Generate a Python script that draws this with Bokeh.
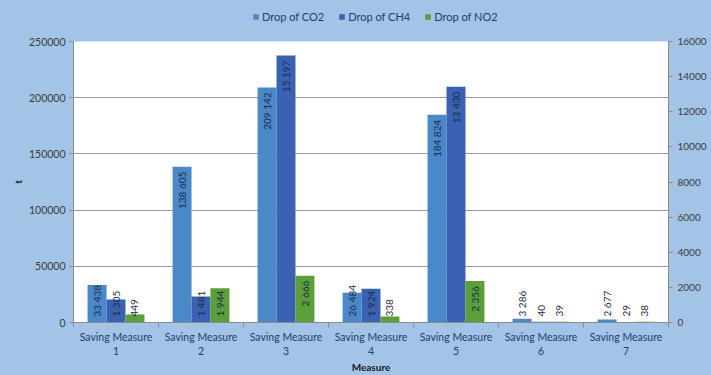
from math import pi

from bokeh.core.properties import value
from bokeh.embed import file_html
from bokeh.layouts import column
from bokeh.models import (BasicTickFormatter, ColumnDataSource, FixedTicker,
                          Legend, LegendItem, LinearAxis, Range1d)
from bokeh.plotting import figure
from bokeh.resources import INLINE

# Emission drops per saving measure (t)
measures = ["Saving Measure 1", "Saving Measure 2", "Saving Measure 3",
            "Saving Measure 4", "Saving Measure 5", "Saving Measure 6",
            "Saving Measure 7"]
co2 = [33438, 138605, 209142, 26484, 184824, 3286, 2677]
ch4 = [1305, 1481, 15197, 1924, 13430, 40, 29]
no2 = [449, 1944, 2666, 338, 2356, 39, 38]

left_ticks = [0, 50000, 100000, 150000, 200000, 250000]
right_ticks = [0, 2000, 4000, 6000, 8000, 10000, 12000, 14000, 16000]

series_names = ["Drop of CO2", "Drop of CH4", "Drop of NO2"]
colors = ["#4b88c8", "#3a62b2", "#5c9e3a"]

LEFT_MAX = 250000
RIGHT_MAX = 16000
FRAME_H = 282
BAR_W = 0.223
LEGEND_H = 33

FONT = "Lato"
LABEL_COLOR = "#1c2b48"
TICK_COLOR = "#3c3c3c"
BG = "#a3c3e7"

p = figure(width=711, height=375 - LEGEND_H, output_backend="svg",
           toolbar_location=None,
           x_range=Range1d(0.5, 7.5), y_range=Range1d(0, LEFT_MAX),
           min_border_left=73, min_border_right=43,
           min_border_top=8, min_border_bottom=52,
           background_fill_color="white", border_fill_color=BG,
           outline_line_color=None)
p.extra_y_ranges = {"right": Range1d(0, RIGHT_MAX)}

xs = list(range(1, len(measures) + 1))
offsets = [-BAR_W, 0.0, BAR_W]
datasets = [co2, ch4, no2]
ranges = ["default", "right", "right"]
maxes = [LEFT_MAX, RIGHT_MAX, RIGHT_MAX]


def fmt(v):
    return f"{v:,}".replace(",", " ")


def text_len_px(s):
    # rough rendered length of a rotated label at 10px
    return sum(2.6 if ch == " " else 5.6 for ch in s)


for vals, off, col, rng, vmax in zip(datasets, offsets, colors, ranges, maxes):
    src = ColumnDataSource(dict(x=[x + off for x in xs], top=vals))
    p.vbar(x="x", top="top", bottom=0, width=BAR_W, source=src,
           fill_color=col, line_color=None, y_range_name=rng)

    # value labels: inside the top of the bar, or lifted clear of the axis
    lx, ly, lt, la = [], [], [], []
    scale = FRAME_H / vmax
    for x, v in zip(xs, vals):
        t = fmt(v)
        h = v * scale
        L = text_len_px(t)
        if h - 5 - L >= 6:
            ly.append((h - 5) / scale)
            la.append("right")
        else:
            ly.append(6 / scale)
            la.append("left")
        lx.append(x + off)
        lt.append(t)
    lsrc = ColumnDataSource(dict(x=lx, y=ly, text=lt, align=la))
    p.text(x="x", y="y", text="text", text_align="align", source=lsrc,
           angle=pi / 2, text_baseline="middle", y_range_name=rng,
           text_font=value(FONT), text_font_size="10px",
           text_color=LABEL_COLOR)

# left axis
yax = p.yaxis[0]
yax.ticker = FixedTicker(ticks=left_ticks)
yax.formatter = BasicTickFormatter(use_scientific=False)
yax.axis_label = "t"
yax.axis_label_text_font = FONT
yax.axis_label_text_font_size = "10px"
yax.axis_label_text_font_style = "bold"
yax.axis_label_text_color = "#1a1a1a"
yax.axis_label_standoff = 2
yax.major_label_text_font = FONT
yax.major_label_text_font_size = "10.5px"
yax.major_label_text_color = TICK_COLOR
yax.axis_line_color = "#8c8c8c"
yax.major_tick_line_color = "#8c8c8c"
yax.major_tick_out = 4
yax.major_tick_in = 0
yax.minor_tick_line_color = None
yax.major_label_standoff = 4

# right axis
rax = LinearAxis(y_range_name="right", ticker=FixedTicker(ticks=right_ticks),
                 formatter=BasicTickFormatter(use_scientific=False))
rax.major_label_text_font = FONT
rax.major_label_text_font_size = "10px"
rax.major_label_text_color = TICK_COLOR
rax.axis_line_color = "#8c8c8c"
rax.major_tick_line_color = "#8c8c8c"
rax.major_tick_out = 4
rax.major_tick_in = 0
rax.minor_tick_line_color = None
rax.major_label_standoff = 5
p.add_layout(rax, "right")

# category axis
xax = p.xaxis[0]
xax.ticker = FixedTicker(ticks=xs, minor_ticks=[x + 0.5 for x in range(0, 8)])
xax.major_label_overrides = {x: m.replace(" Measure ", " Measure\n")
                             for x, m in zip(xs, measures)}
xax.major_label_text_font = FONT
xax.major_label_text_font_size = "10.5px"
xax.major_label_text_color = "#24406c"
xax.major_tick_line_color = None
xax.major_tick_out = 0
xax.major_tick_in = 0
xax.minor_tick_line_color = "#8c8c8c"
xax.minor_tick_out = 5
xax.minor_tick_in = 0
xax.axis_line_color = "#8c8c8c"
xax.major_label_standoff = 3
xax.axis_label = "Measure"
xax.axis_label_text_font = FONT
xax.axis_label_text_font_size = "10px"
xax.axis_label_text_font_style = "bold"
xax.axis_label_text_color = "#1a1a1a"
xax.axis_label_standoff = 1

p.xgrid.grid_line_color = None
p.ygrid.grid_line_color = "#9a9a9a"
p.ygrid.grid_line_width = 1

# legend strip: a transparent small figure above the chart
leg = figure(width=711, height=LEGEND_H, output_backend="svg",
             toolbar_location=None, x_axis_location=None,
             y_axis_location=None, x_range=Range1d(0, 1),
             y_range=Range1d(0, 1),
             min_border_left=73, min_border_right=43,
             min_border_top=0, min_border_bottom=0,
             background_fill_color=None, border_fill_color=None,
             outline_line_color=None)
leg.xgrid.visible = False
leg.ygrid.visible = False
# swatch glyphs sit outside the visible range; only their legend keys show
swatches = [leg.rect(x=[-5], y=[-5], width=1, height=1, fill_color=c,
                     line_color=None) for c in colors]

legend = Legend(items=[LegendItem(label=n, renderers=[r])
                       for n, r in zip(series_names, swatches)],
                orientation="horizontal", location=(179, 10),
                background_fill_alpha=0, border_line_color=None,
                label_text_font=FONT, label_text_font_size="11px",
                label_text_color="#24406c", glyph_width=7, glyph_height=7,
                label_height=12, label_standoff=3, spacing=14,
                padding=0, margin=0)
leg.add_layout(legend, "center")

layout = column(leg, p, spacing=0, styles={"background-color": BG})
open("out.html", "w").write(file_html(layout, INLINE))
